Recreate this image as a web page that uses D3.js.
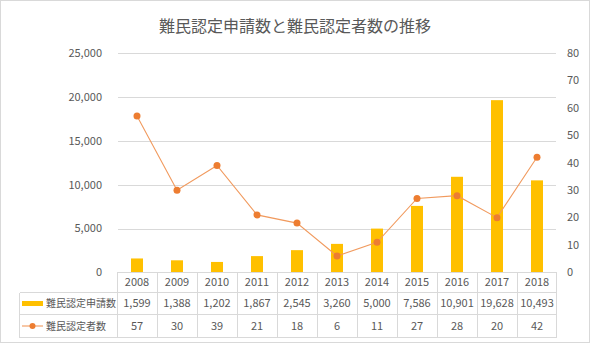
<!DOCTYPE html>
<html><head><meta charset="utf-8">
<script src="https://cdn.jsdelivr.net/npm/d3@7"></script>
<style>body{margin:0;background:#fff}svg{display:block}text{font-family:"Noto Sans CJK JP","Noto Sans",sans-serif;fill:#595959}</style>
</head><body><svg id="c" width="590" height="343"></svg>
<script>
const years = ["2008","2009","2010","2011","2012","2013","2014","2015","2016","2017","2018"];
const applications = [1599,1388,1202,1867,2545,3260,5000,7586,10901,19628,10493];
const recognized = [57,30,39,21,18,6,11,27,28,20,42];
const leftTicks = [0,5000,10000,15000,20000,25000];
const rightTicks = [0,10,20,30,40,50,60,70,80];
const seriesNames = ["難民認定申請数","難民認定者数"];
const title = "難民認定申請数と難民認定者数の推移";

(function(){
const svg = d3.select("#c");
const W = 590, H = 343;
const pLeft = 117, pRight = 557, pTop = 53, pBottom = 272.5;
const grid = "#D9D9D9", barColor = "#FFC000", lineColor = "#ED7D31";

svg.append("rect").attr("x",0.5).attr("y",0.5).attr("width",W-1).attr("height",H-1)
  .attr("fill","#fff").attr("stroke","#D9D9D9");

svg.append("text").attr("x",295).attr("y",32).attr("text-anchor","middle")
  .style("font-size","16px").text(title);

const x = d3.scaleBand().domain(years).range([pLeft,pRight]).paddingInner(0).paddingOuter(0);
const yL = d3.scaleLinear().domain([0,25000]).range([pBottom,pTop]);
const yR = d3.scaleLinear().domain([0,80]).range([pBottom,pTop]);

svg.append("g").selectAll("line").data(leftTicks.filter(d=>d>0)).join("line")
  .attr("x1",pLeft+1).attr("x2",pRight-1)
  .attr("y1",d=>Math.round(yL(d))+0.5).attr("y2",d=>Math.round(yL(d))+0.5)
  .attr("stroke",grid).attr("stroke-width",1);

const fmt = d3.format(",");
svg.append("g").selectAll("text").data(leftTicks).join("text")
  .attr("x",102).attr("y",d=>yL(d)).attr("dy","0.35em").attr("text-anchor","end")
  .style("font-size","11px").text(d=>fmt(d));
svg.append("g").selectAll("text").data(rightTicks).join("text")
  .attr("x",567).attr("y",d=>yR(d)).attr("dy","0.35em").attr("text-anchor","start")
  .style("font-size","11px").text(d=>d);

const bw = x.bandwidth()*0.3;
svg.append("g").selectAll("rect").data(applications).join("rect")
  .attr("x",(d,i)=>x(years[i])+(x.bandwidth()-bw)/2)
  .attr("y",d=>yL(d)).attr("width",bw).attr("height",d=>pBottom-yL(d))
  .attr("fill",barColor);

const line = d3.line().x((d,i)=>x(years[i])+x.bandwidth()/2).y(d=>yR(d));
svg.append("path").datum(recognized).attr("d",line).attr("fill","none")
  .attr("stroke","#F19A5E").attr("stroke-width",1.1);
svg.append("g").selectAll("circle").data(recognized).join("circle")
  .attr("cx",(d,i)=>x(years[i])+x.bandwidth()/2).attr("cy",d=>yR(d)).attr("r",3.5)
  .attr("fill",lineColor);

const rowY = [272.5, 292.5, 314.5, 337.5];
const tleft = 19.5;
const tg = svg.append("g").attr("stroke",grid).attr("stroke-width",1).attr("shape-rendering","crispEdges");
tg.append("line").attr("x1",pLeft).attr("x2",pRight).attr("y1",rowY[0]).attr("y2",rowY[0]);
[1,2,3].forEach(r=>tg.append("line").attr("x1",tleft).attr("x2",pRight).attr("y1",rowY[r]).attr("y2",rowY[r]));
tg.append("line").attr("x1",tleft).attr("x2",tleft).attr("y1",rowY[1]).attr("y2",rowY[3]);
years.forEach(y=>tg.append("line").attr("x1",x(y)+0.5).attr("x2",x(y)+0.5).attr("y1",rowY[0]).attr("y2",rowY[3]));
tg.append("line").attr("x1",pRight-0.5).attr("x2",pRight-0.5).attr("y1",rowY[0]).attr("y2",rowY[3]);

const cx = y=>x(y)+x.bandwidth()/2;
const rowMid = r=>(rowY[r]+rowY[r+1])/2;
svg.append("g").selectAll("text").data(years).join("text")
  .attr("x",d=>cx(d)).attr("y",rowMid(0)).attr("dy","0.35em").attr("text-anchor","middle")
  .style("font-size","11px").text(d=>d);
svg.append("g").selectAll("text").data(applications).join("text")
  .attr("x",(d,i)=>cx(years[i])).attr("y",rowMid(1)).attr("dy","0.35em").attr("text-anchor","middle")
  .style("font-size","11px").text(d=>fmt(d));
svg.append("g").selectAll("text").data(recognized).join("text")
  .attr("x",(d,i)=>cx(years[i])).attr("y",rowMid(2)).attr("dy","0.35em").attr("text-anchor","middle")
  .style("font-size","11px").text(d=>d);

svg.append("rect").attr("x",22).attr("y",rowMid(1)-2.5).attr("width",21).attr("height",5).attr("fill",barColor);
svg.append("line").attr("x1",22).attr("x2",43).attr("y1",rowMid(2)).attr("y2",rowMid(2))
  .attr("stroke","#F19A5E").attr("stroke-width",1.1);
svg.append("circle").attr("cx",32.5).attr("cy",rowMid(2)).attr("r",3).attr("fill",lineColor);
svg.append("text").attr("x",46).attr("y",rowMid(1)).attr("dy","0.35em").style("font-size","10px").text(seriesNames[0]);
svg.append("text").attr("x",46).attr("y",rowMid(2)).attr("dy","0.35em").style("font-size","10px").text(seriesNames[1]);
})();
</script></body></html>
